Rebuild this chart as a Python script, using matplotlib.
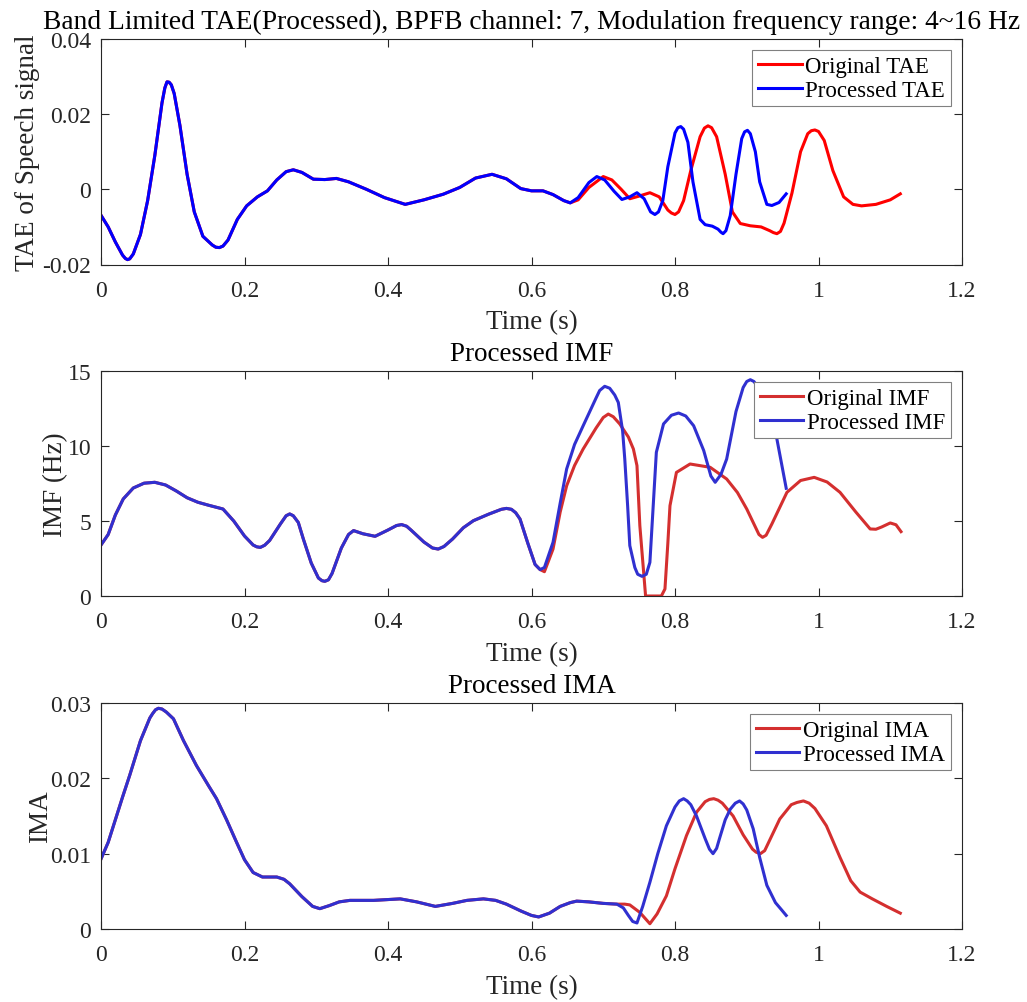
import matplotlib
matplotlib.use('Agg')
import matplotlib.pyplot as plt
from matplotlib.ticker import FuncFormatter

plt.rcParams['font.family'] = ['Liberation Serif', 'DejaVu Serif']
plt.rcParams['axes.unicode_minus'] = False

# --- TAE (panel 1) ---
tae_common_t = [0.000, 0.010, 0.020, 0.030, 0.034, 0.037, 0.040, 0.045, 0.055, 0.065,
                0.075, 0.080, 0.085, 0.089, 0.092, 0.095, 0.098, 0.102, 0.110, 0.120,
                0.130, 0.142, 0.155, 0.160, 0.165, 0.170, 0.177, 0.190, 0.203, 0.218,
                0.232, 0.245, 0.258, 0.268, 0.280, 0.296, 0.312, 0.328, 0.345, 0.370,
                0.395, 0.424, 0.450, 0.477, 0.500, 0.522, 0.545, 0.565, 0.585, 0.600,
                0.616, 0.630, 0.645, 0.654]
tae_common_v = [-0.0069, -0.0100, -0.0140, -0.0175, -0.0184, -0.0187, -0.0185, -0.0172, -0.0120, -0.0030,
                0.0090, 0.0160, 0.0230, 0.0270, 0.0286, 0.0285, 0.0278, 0.0255, 0.0170, 0.0040,
                -0.0060, -0.0125, -0.0148, -0.0154, -0.0155, -0.0151, -0.0135, -0.0080, -0.0044, -0.0020,
                -0.0004, 0.0025, 0.0047, 0.0052, 0.0045, 0.0027, 0.0026, 0.0029, 0.0020, 0.0000,
                -0.0022, -0.0040, -0.0028, -0.0013, 0.0005, 0.0030, 0.0040, 0.0028, 0.0002, -0.0004,
                -0.0004, -0.0014, -0.0030, -0.0036]
tae_orig_t = tae_common_t + [0.665, 0.680, 0.700, 0.712, 0.725, 0.737, 0.750, 0.765, 0.778, 0.790,
                             0.795, 0.800, 0.805, 0.812, 0.822, 0.835, 0.841, 0.846, 0.851, 0.858,
                             0.870, 0.880, 0.891, 0.905, 0.920, 0.932, 0.937, 0.942, 0.947, 0.952,
                             0.963, 0.975, 0.985, 0.990, 0.995, 1.000, 1.008, 1.020, 1.035, 1.048,
                             1.060, 1.080, 1.100, 1.114]
tae_orig_v = tae_common_v + [-0.0028, 0.0005, 0.0034, 0.0025, 0.0000, -0.0025, -0.0018, -0.0009, -0.0020, -0.0055,
                             -0.0063, -0.0067, -0.0060, -0.0030, 0.0050, 0.0140, 0.0163, 0.0169, 0.0164, 0.0140,
                             0.0040, -0.0060, -0.0091, -0.0097, -0.0100, -0.0110, -0.0115, -0.0118, -0.0112, -0.0090,
                             -0.0010, 0.0100, 0.0148, 0.0156, 0.0158, 0.0154, 0.0130, 0.0050, -0.0020, -0.0040,
                             -0.0044, -0.0040, -0.0028, -0.0012]
tae_proc_t = tae_common_t + [0.665, 0.680, 0.691, 0.702, 0.715, 0.726, 0.737, 0.747, 0.757, 0.766,
                             0.772, 0.777, 0.783, 0.790, 0.800, 0.804, 0.808, 0.812, 0.818, 0.825,
                             0.835, 0.842, 0.852, 0.860, 0.864, 0.867, 0.871, 0.877, 0.885, 0.893,
                             0.897, 0.901, 0.905, 0.912, 0.918, 0.928, 0.935, 0.945, 0.955]
tae_proc_v = tae_common_v + [-0.0022, 0.0018, 0.0034, 0.0025, -0.0005, -0.0027, -0.0020, -0.0009, -0.0025, -0.0060,
                             -0.0067, -0.0060, -0.0030, 0.0060, 0.0150, 0.0164, 0.0167, 0.0160, 0.0125, 0.0020,
                             -0.0080, -0.0094, -0.0098, -0.0106, -0.0114, -0.0118, -0.0110, -0.0070, 0.0040, 0.0135,
                             0.0153, 0.0157, 0.0148, 0.0100, 0.0020, -0.0040, -0.0043, -0.0035, -0.0012]

# --- IMF (panel 2) ---
imf_common_t = [0.000, 0.010, 0.020, 0.031, 0.045, 0.060, 0.075, 0.090, 0.105, 0.120,
                0.135, 0.150, 0.170, 0.185, 0.200, 0.212, 0.217, 0.222, 0.228, 0.235,
                0.250, 0.258, 0.263, 0.268, 0.275, 0.282, 0.293, 0.303, 0.308, 0.312,
                0.317, 0.322, 0.335, 0.345, 0.352, 0.365, 0.382, 0.400, 0.412, 0.419,
                0.426, 0.432, 0.450, 0.462, 0.470, 0.478, 0.490, 0.505, 0.519, 0.540,
                0.558, 0.565, 0.572, 0.578, 0.584, 0.595, 0.605, 0.612]
imf_common_v = [3.40, 4.10, 5.40, 6.47, 7.20, 7.52, 7.58, 7.40, 7.00, 6.55,
                6.25, 6.05, 5.80, 5.00, 4.00, 3.40, 3.28, 3.24, 3.38, 3.70,
                4.80, 5.35, 5.47, 5.35, 4.90, 3.80, 2.20, 1.20, 1.02, 0.98,
                1.08, 1.50, 3.20, 4.10, 4.36, 4.15, 3.98, 4.40, 4.70, 4.76,
                4.65, 4.40, 3.60, 3.20, 3.13, 3.30, 3.80, 4.55, 5.02, 5.45,
                5.78, 5.84, 5.78, 5.55, 5.13, 3.50, 2.10, 1.76]
imf_orig_t = imf_common_t + [0.618, 0.630, 0.640, 0.649, 0.660, 0.672, 0.690, 0.700, 0.707, 0.714,
                             0.723, 0.735, 0.742, 0.747, 0.751, 0.759, 0.781, 0.786, 0.790, 0.793,
                             0.802, 0.821, 0.849, 0.872, 0.887, 0.900, 0.912, 0.917, 0.922, 0.927,
                             0.935, 0.956, 0.975, 0.994, 1.012, 1.030, 1.052, 1.072, 1.080, 1.088,
                             1.100, 1.108, 1.115]
imf_orig_v = imf_common_v + [1.62, 3.13, 5.60, 7.35, 8.70, 9.80, 11.20, 11.90, 12.13, 11.95,
                             11.47, 10.60, 9.80, 8.69, 4.69, 0.00, 0.00, 0.47, 3.50, 6.02,
                             8.24, 8.80, 8.58, 7.80, 6.90, 5.80, 4.60, 4.10, 3.91, 4.05,
                             4.80, 6.91, 7.70, 7.91, 7.60, 6.91, 5.60, 4.47, 4.45, 4.60,
                             4.87, 4.75, 4.29]
imf_proc_t = imf_common_t + [0.618, 0.630, 0.640, 0.649, 0.660, 0.672, 0.690, 0.695, 0.702, 0.709,
                             0.716, 0.721, 0.727, 0.730, 0.734, 0.737, 0.744, 0.748, 0.754, 0.760,
                             0.765, 0.769, 0.774, 0.784, 0.795, 0.805, 0.815, 0.826, 0.840, 0.850,
                             0.856, 0.864, 0.872, 0.885, 0.895, 0.900, 0.905, 0.910, 0.916, 0.923,
                             0.930, 0.942, 0.955]
imf_proc_v = imf_common_v + [1.90, 3.58, 6.20, 8.47, 10.10, 11.35, 13.20, 13.70, 13.98, 13.85,
                             13.40, 12.90, 11.00, 9.13, 6.00, 3.36, 1.90, 1.45, 1.31, 1.45,
                             2.24, 5.50, 9.58, 11.47, 12.05, 12.20, 12.00, 11.35, 9.70, 8.00,
                             7.58, 8.10, 9.13, 12.30, 13.90, 14.30, 14.42, 14.30, 13.90, 13.36,
                             12.40, 10.47, 7.18]

# --- IMA (panel 3) ---
ima_common_t = [0.000, 0.010, 0.020, 0.030, 0.040, 0.055, 0.068, 0.072, 0.076, 0.080,
                0.085, 0.091, 0.101, 0.115, 0.133, 0.150, 0.161, 0.175, 0.189, 0.200,
                0.212, 0.225, 0.245, 0.255, 0.263, 0.280, 0.295, 0.305, 0.318, 0.332,
                0.347, 0.380, 0.417, 0.440, 0.466, 0.490, 0.510, 0.533, 0.550, 0.565,
                0.585, 0.600, 0.610, 0.625, 0.640, 0.654, 0.663, 0.680, 0.700, 0.719]
ima_common_v = [0.0093, 0.0115, 0.0145, 0.0175, 0.0204, 0.0250, 0.0280, 0.0286, 0.0291, 0.0293,
                0.0292, 0.0288, 0.0279, 0.0250, 0.0217, 0.0190, 0.0173, 0.0145, 0.0115, 0.0092,
                0.0075, 0.0069, 0.0069, 0.0066, 0.0060, 0.0043, 0.0030, 0.0027, 0.0031, 0.0036,
                0.0038, 0.0038, 0.0040, 0.0036, 0.0030, 0.0034, 0.0038, 0.0040, 0.0038, 0.0033,
                0.0024, 0.0018, 0.0016, 0.0021, 0.0030, 0.0035, 0.0037, 0.0036, 0.0034, 0.0033]
ima_orig_t = ima_common_t + [0.730, 0.737, 0.751, 0.765, 0.775, 0.788, 0.800, 0.816, 0.830, 0.842,
                             0.848, 0.854, 0.860, 0.866, 0.881, 0.895, 0.908, 0.913, 0.919, 0.925,
                             0.932, 0.946, 0.962, 0.970, 0.979, 0.987, 0.995, 1.011, 1.030, 1.045,
                             1.058, 1.075, 1.095, 1.114]
ima_orig_v = ima_common_v + [0.0033, 0.0032, 0.0022, 0.0007, 0.0020, 0.0044, 0.0080, 0.0124, 0.0155, 0.0169,
                             0.0172, 0.0173, 0.0171, 0.0167, 0.0150, 0.0125, 0.0106, 0.0102, 0.0100, 0.0104,
                             0.0118, 0.0146, 0.0165, 0.0168, 0.0170, 0.0167, 0.0160, 0.0137, 0.0095, 0.0064,
                             0.0049, 0.0040, 0.0030, 0.0021]
ima_proc_t = ima_common_t + [0.728, 0.735, 0.741, 0.747, 0.755, 0.765, 0.776, 0.788, 0.800, 0.806,
                             0.812, 0.817, 0.822, 0.830, 0.842, 0.848, 0.853, 0.858, 0.862, 0.870,
                             0.877, 0.884, 0.890, 0.895, 0.900, 0.909, 0.918, 0.928, 0.940, 0.948,
                             0.955]
ima_proc_v = ima_common_v + [0.0028, 0.0018, 0.0010, 0.0008, 0.0030, 0.0062, 0.0100, 0.0137, 0.0162, 0.0170,
                             0.0173, 0.0170, 0.0165, 0.0150, 0.0120, 0.0106, 0.0100, 0.0107, 0.0120, 0.0145,
                             0.0159, 0.0167, 0.0170, 0.0166, 0.0158, 0.0133, 0.0095, 0.0058, 0.0035, 0.0026,
                             0.0018]

x_ticks = [0, 0.2, 0.4, 0.6, 0.8, 1.0, 1.2]

fig = plt.figure(figsize=(10.27, 10.03), dpi=100)
W, H = 1027, 1003
def axes_px(left, right, top, bottom):
    return fig.add_axes([left / W, 1 - bottom / H, (right - left) / W, (bottom - top) / H])

ax1 = axes_px(101, 962, 40, 265.5)
ax2 = axes_px(101, 962, 372, 597)
ax3 = axes_px(101, 962, 704, 930)

dark = '#262626'
fmt = FuncFormatter(lambda v, p: '%g' % round(v, 4))
lw = 2.2
tick_fs = 17
label_fs = 19.5

def style(ax, ylim, yticks):
    ax.set_xlim(0, 1.2)
    ax.set_ylim(*ylim)
    ax.set_xticks(x_ticks)
    ax.set_yticks(yticks)
    ax.xaxis.set_major_formatter(fmt)
    ax.yaxis.set_major_formatter(fmt)
    ax.tick_params(direction='in', top=True, right=True, length=6, width=0.8,
                   colors=dark, labelsize=tick_fs)
    ax.tick_params(axis='x', pad=11)
    ax.tick_params(axis='y', pad=7)
    for s in ax.spines.values():
        s.set_color(dark)
        s.set_linewidth(0.8)
    ax.set_xlabel('Time (s)', fontsize=label_fs, color=dark, labelpad=6)

def legend(ax, labels):
    leg = ax.legend(labels, loc='upper right', fontsize=16.5, frameon=True, fancybox=False,
                    edgecolor='#808080', framealpha=1, borderaxespad=0.5, handlelength=1.9,
                    handletextpad=0.15, borderpad=0.25, labelspacing=0.1)
    leg.get_frame().set_linewidth(0.8)

# panel 1
ax1.plot(tae_orig_t, tae_orig_v, color='#ff0000', lw=lw, solid_joinstyle='round')
ax1.plot(tae_proc_t, tae_proc_v, color='#0000ff', lw=lw, solid_joinstyle='round')
style(ax1, (-0.02, 0.04), [-0.02, 0, 0.02, 0.04])
ax1.set_ylabel('TAE of Speech signal', fontsize=label_fs, color=dark, labelpad=2)
ax1.set_title('Band Limited TAE(Processed), BPFB channel: 7, Modulation frequency range: 4~16 Hz',
              fontsize=19.8, pad=8)
legend(ax1, ['Original TAE', 'Processed TAE'])

# panel 2
ax2.plot(imf_orig_t, imf_orig_v, color='#d42f2f', lw=lw, solid_joinstyle='round')
ax2.plot(imf_proc_t, imf_proc_v, color='#3030d0', lw=lw, solid_joinstyle='round')
style(ax2, (0, 15), [0, 5, 10, 15])
ax2.set_ylabel('IMF (Hz)', fontsize=label_fs, color=dark, labelpad=0)
ax2.set_title('Processed IMF', fontsize=label_fs, pad=8)
legend(ax2, ['Original IMF', 'Processed IMF'])

# panel 3
ax3.plot(ima_orig_t, ima_orig_v, color='#d42f2f', lw=lw, solid_joinstyle='round')
ax3.plot(ima_proc_t, ima_proc_v, color='#3030d0', lw=lw, solid_joinstyle='round')
style(ax3, (0, 0.03), [0, 0.01, 0.02, 0.03])
ax3.set_ylabel('IMA', fontsize=label_fs, color=dark, labelpad=-2)
ax3.set_title('Processed IMA', fontsize=label_fs, pad=8)
legend(ax3, ['Original IMA', 'Processed IMA'])

fig.savefig('out.png', dpi=100)
